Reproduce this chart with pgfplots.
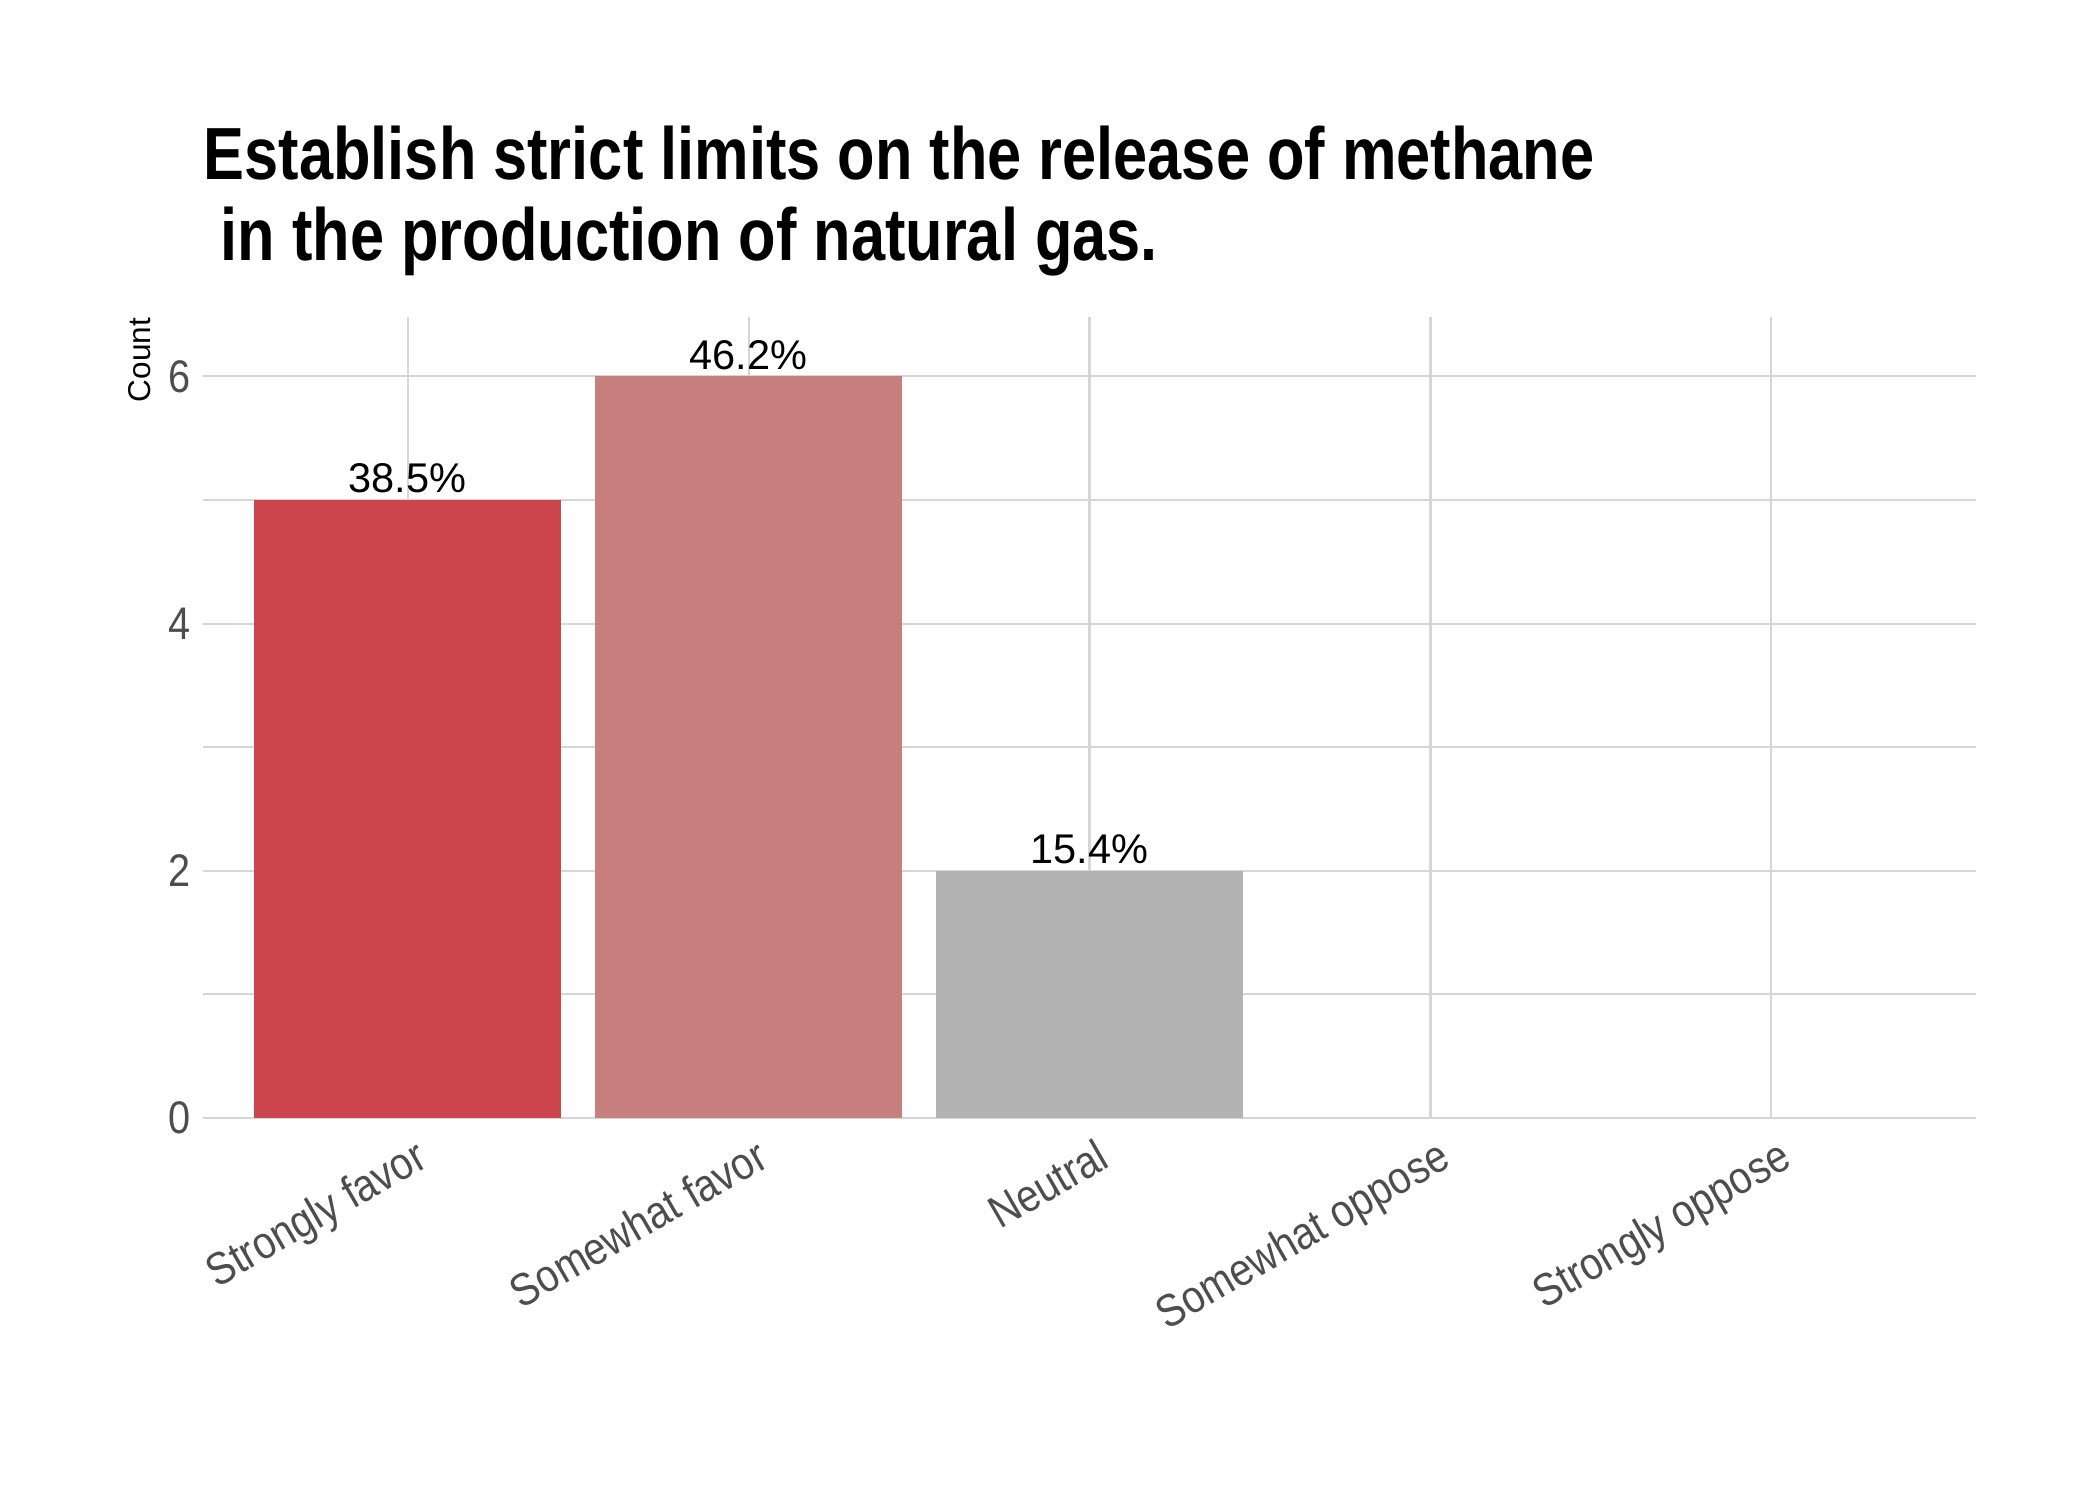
\documentclass[border=0pt]{standalone}
\usepackage{fontspec}
\setmainfont{Liberation Sans}
\newfontfamily\titlefont[FakeStretch=0.83]{Liberation Sans}
\newfontfamily\tickfont[FakeStretch=0.87]{Liberation Sans}
\usepackage{pgfplots}
\pgfplotsset{compat=1.18}
\definecolor{sf}{HTML}{CC454C}
\definecolor{swf}{HTML}{C77F7D}
\definecolor{neu}{HTML}{B3B3B3}
\definecolor{gridc}{HTML}{D6D6D6}
\definecolor{tickc}{HTML}{4D4D4D}
\begin{document}
\begin{tikzpicture}
\path[use as bounding box] (0,0) rectangle (505.89pt,361.35pt);
\begin{axis}[
  at={(48.90pt,92.02pt)}, anchor=south west,
  scale only axis, width=427.12pt, height=192.96pt,
  xmin=-0.6, xmax=4.6, ymin=0, ymax=6.48,
  xtick={0,1,2,3,4},
  xticklabels={Strongly favor, Somewhat favor, Neutral, Somewhat oppose, Strongly oppose},
  ytick={0,2,4,6}, minor ytick={1,3,5},
  grid=both,
  major grid style={gridc, line width=0.5pt},
  minor grid style={gridc, line width=0.5pt},
  axis line style={draw=none},
  major tick length=0pt, minor tick length=0pt,
  tick style={draw=none},
  /pgf/number format/assume math mode=true,
  xticklabel style={xshift=1.4pt, yshift=-4.3pt, rotate=30, anchor=north east, inner sep=0pt,
    font=\tickfont\fontsize{11}{13}\selectfont, text=tickc},
  yticklabel style={anchor=east, inner sep=0pt, xshift=-2.9pt,
    font=\tickfont\fontsize{11}{13}\selectfont, text=tickc},
  ybar, bar width=0.9,
  nodes near coords, point meta=explicit symbolic,
  nodes near coords style={anchor=base, inner sep=0pt, yshift=1.7pt,
    font=\fontsize{10}{12}\selectfont, text=black},
]
\addplot[fill=sf, draw=none, bar shift=0pt] coordinates {(0,5) [38.5\%]};
\addplot[fill=swf, draw=none, bar shift=0pt] coordinates {(1,6) [46.2\%]};
\addplot[fill=neu, draw=none, bar shift=0pt] coordinates {(2,2) [15.4\%]};
\end{axis}
\node[anchor=base west, inner sep=0pt, font=\titlefont\bfseries\fontsize{17.8}{21}\selectfont] at (48.9pt,318.2pt) {Establish strict limits on the release of methane};
\node[anchor=base west, inner sep=0pt, font=\titlefont\bfseries\fontsize{17.8}{21}\selectfont] at (48.9pt,298.7pt) {\ in the production of natural gas.};
\node[rotate=90, anchor=base east, inner sep=0pt, font=\fontsize{7.6}{10}\selectfont] at (36.14pt,284.98pt) {Count};
\end{tikzpicture}
\end{document}
